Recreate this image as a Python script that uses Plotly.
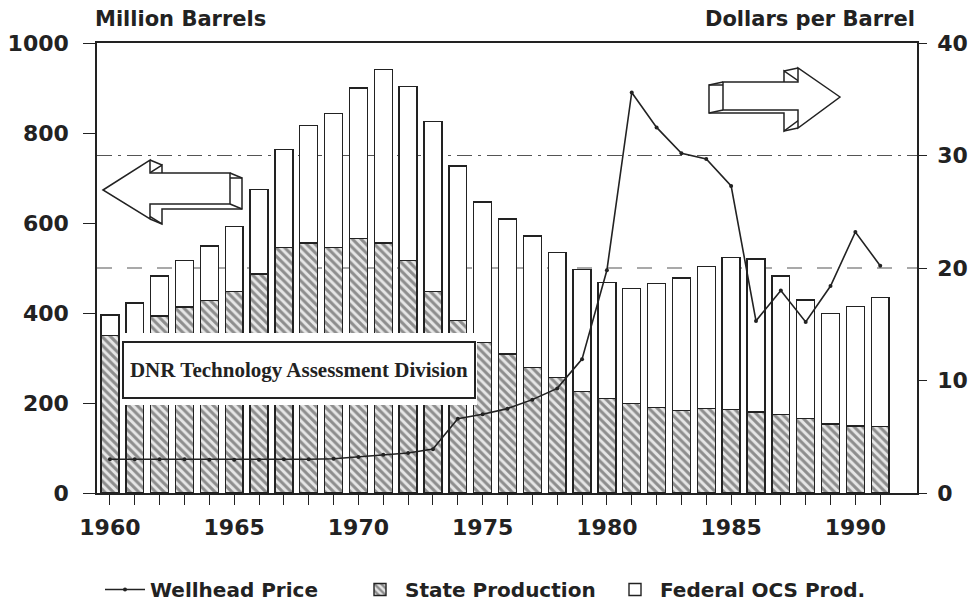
import plotly.graph_objects as go

# ---------------- data ----------------
years = list(range(1960, 1992))
state_production = [350, 355, 393, 413, 428, 448, 487, 546, 556, 545,
                    565, 556, 517, 448, 383, 335, 309, 279, 257, 226,
                    210, 199, 190, 183, 188, 186, 180, 175, 166, 153,
                    149, 148]
federal_ocs = [46, 67, 89, 104, 121, 144, 188, 218, 261, 298,
               335, 385, 386, 377, 344, 312, 300, 292, 278, 271,
               258, 256, 275, 295, 316, 338, 340, 307, 263, 246,
               265, 287]
wellhead_price = [3.0, 3.0, 3.0, 3.0, 2.95, 2.95, 2.95, 3.0, 3.0, 3.05,
                  3.2, 3.4, 3.55, 3.9, 6.6, 7.0, 7.5, 8.3, 9.3, 11.9,
                  19.8, 35.6, 32.5, 30.2, 29.7, 27.3, 15.3, 18.0, 15.2, 18.4,
                  23.2, 20.2]
major_years = [1960, 1965, 1970, 1975, 1980, 1985, 1990]
left_ticks = [0, 200, 400, 600, 800, 1000]
right_ticks = [0, 10, 20, 30, 40]
price_guides = [20, 30]

FONT = "DejaVu Sans"
INK = "#222222"

# plot-area geometry in pixels (used only for decorations)
PL, PT, PW, PH = 97, 43, 820, 450


def pp(x, y):
    return (x - PL) / PW, (PT + PH - y) / PH


def path(points, dx=0, dy=0):
    parts = []
    for i, (x, y) in enumerate(points):
        a, b = pp(x + dx, y + dy)
        parts.append(("M" if i == 0 else "L") + f"{a:.5f},{b:.5f}")
    return " ".join(parts) + " Z"


def seg(p, q):
    a, b = pp(*p)
    c, d = pp(*q)
    return f"M{a:.5f},{b:.5f} L{c:.5f},{d:.5f}"


fig = go.Figure()

fig.add_trace(go.Scatter(
    x=years, y=wellhead_price, name="Wellhead Price", yaxis="y2",
    mode="lines+markers",
    line=dict(color=INK, width=1.6),
    marker=dict(size=4, color=INK),
))
fig.add_trace(go.Bar(
    x=years, y=state_production, name="State Production", width=0.72,
    marker=dict(color="white", line=dict(color=INK, width=1.4),
                pattern=dict(shape="\\", fgcolor="#333333", bgcolor="#e6e6e6",
                             size=6, solidity=0.5)),
))
fig.add_trace(go.Bar(
    x=years, y=federal_ocs, name="Federal OCS Prod.", width=0.72,
    marker=dict(color="white", line=dict(color=INK, width=1.4)),
))

shapes = []
# dashed guide lines (right axis)
for g, dash in zip(price_guides, ["longdash", "longdashdot"]):
    shapes.append(dict(type="line", xref="paper", yref="y2", x0=0, x1=1, y0=g, y1=g,
                       line=dict(color="#555555", width=1.2, dash=dash), layer="below"))

# white margin behind the credit box
x0, y0 = pp(120, 405)
x1, y1 = pp(477, 333)
shapes.append(dict(type="rect", xref="paper", yref="paper", x0=x0, x1=x1, y0=y0, y1=y1,
                   fillcolor="white", line=dict(width=0), layer="above"))

# left-pointing 3D arrow
left_front = [(103, 190), (150, 160), (150, 173), (230, 173), (230, 204), (150, 204), (150, 219)]
lo = (12, 5)
shapes.append(dict(type="path", xref="paper", yref="paper", path=path(left_front, *lo),
                   fillcolor="white", line=dict(color=INK, width=1.5), layer="above"))
shapes.append(dict(type="path", xref="paper", yref="paper", path=path(left_front),
                   fillcolor="white", line=dict(color=INK, width=1.5), layer="above"))
for p in [(230, 173), (230, 204), (150, 160), (150, 219)]:
    shapes.append(dict(type="path", xref="paper", yref="paper",
                       path=seg(p, (p[0] + lo[0], p[1] + lo[1])),
                       line=dict(color=INK, width=1.5), layer="above"))

# right-pointing 3D arrow
right_front = [(840, 97), (798, 68), (798, 82), (723, 82), (723, 110), (798, 110), (798, 128)]
ro = (-14, 3)
shapes.append(dict(type="path", xref="paper", yref="paper", path=path(right_front, *ro),
                   fillcolor="white", line=dict(color=INK, width=1.5), layer="above"))
shapes.append(dict(type="path", xref="paper", yref="paper", path=path(right_front),
                   fillcolor="white", line=dict(color=INK, width=1.5), layer="above"))
for p in [(723, 82), (723, 110), (798, 68), (798, 128)]:
    shapes.append(dict(type="path", xref="paper", yref="paper",
                       path=seg(p, (p[0] + ro[0], p[1] + ro[1])),
                       line=dict(color=INK, width=1.5), layer="above"))

annotations = []
bx, by = pp(299, 370)
annotations.append(dict(
    xref="paper", yref="paper", x=bx, y=by, xanchor="center", yanchor="middle",
    text="DNR Technology Assessment Division", showarrow=False,
    font=dict(family="Liberation Serif", size=21, color=INK, weight="bold"),
    bgcolor="white", bordercolor=INK, borderwidth=2, borderpad=5,
    width=340, height=44,
))
tx, ty = pp(93, 19)
annotations.append(dict(xref="paper", yref="paper", x=tx, y=ty, xanchor="left", yanchor="middle",
                        text="Million Barrels", showarrow=False,
                        font=dict(family=FONT, size=21, color=INK, weight="bold")))
tx, ty = pp(917, 19)
annotations.append(dict(xref="paper", yref="paper", x=tx, y=ty, xanchor="right", yanchor="middle",
                        text="Dollars per Barrel", showarrow=False,
                        font=dict(family=FONT, size=21, color=INK, weight="bold")))

lx, ly = pp(100, 609)
tickfont = dict(family=FONT, size=22, color=INK, weight="bold")
fig.update_layout(
    width=971, height=609,
    margin=dict(l=PL, r=971 - PL - PW, t=PT, b=609 - PT - PH, autoexpand=False),
    paper_bgcolor="white", plot_bgcolor="white",
    barmode="stack",
    font=dict(family=FONT, size=20, color=INK, weight="bold"),
    showlegend=True,
    legend=dict(orientation="h", x=lx, xanchor="left", y=ly, yanchor="bottom",
                font=dict(family=FONT, size=20, color=INK, weight="bold"),
                traceorder="normal", itemwidth=40, entrywidth=200, entrywidthmode="pixels"),
    xaxis=dict(range=[1959.48, 1992.48], tickvals=years,
               ticktext=[str(y) if y in major_years else "" for y in years],
               ticks="outside", ticklen=10, tickwidth=1.3, tickcolor=INK,
               showline=True, linewidth=2, linecolor=INK, mirror=True,
               showgrid=False, zeroline=False, ticklabelstandoff=4,
               automargin=False, tickfont=tickfont),
    yaxis=dict(range=[0, 1000], tickvals=left_ticks,
               ticks="outside", ticklen=12, tickwidth=1.3, tickcolor=INK,
               showline=True, linewidth=1.5, linecolor=INK,
               showgrid=False, zeroline=False, ticklabelstandoff=10,
               automargin=False, tickfont=tickfont),
    yaxis2=dict(range=[0, 40], tickvals=right_ticks, overlaying="y", side="right",
                ticks="outside", ticklen=8, tickwidth=1.3, tickcolor=INK,
                showline=True, linewidth=1.5, linecolor=INK,
                showgrid=False, zeroline=False, ticklabelstandoff=6,
                automargin=False, tickfont=tickfont),
    shapes=shapes,
    annotations=annotations,
)

fig.write_html(
    "out.html",
    config={"displayModeBar": False},
    post_script="document.body.style.margin='0';document.documentElement.style.overflow='hidden';document.body.style.overflow='hidden';",
)
